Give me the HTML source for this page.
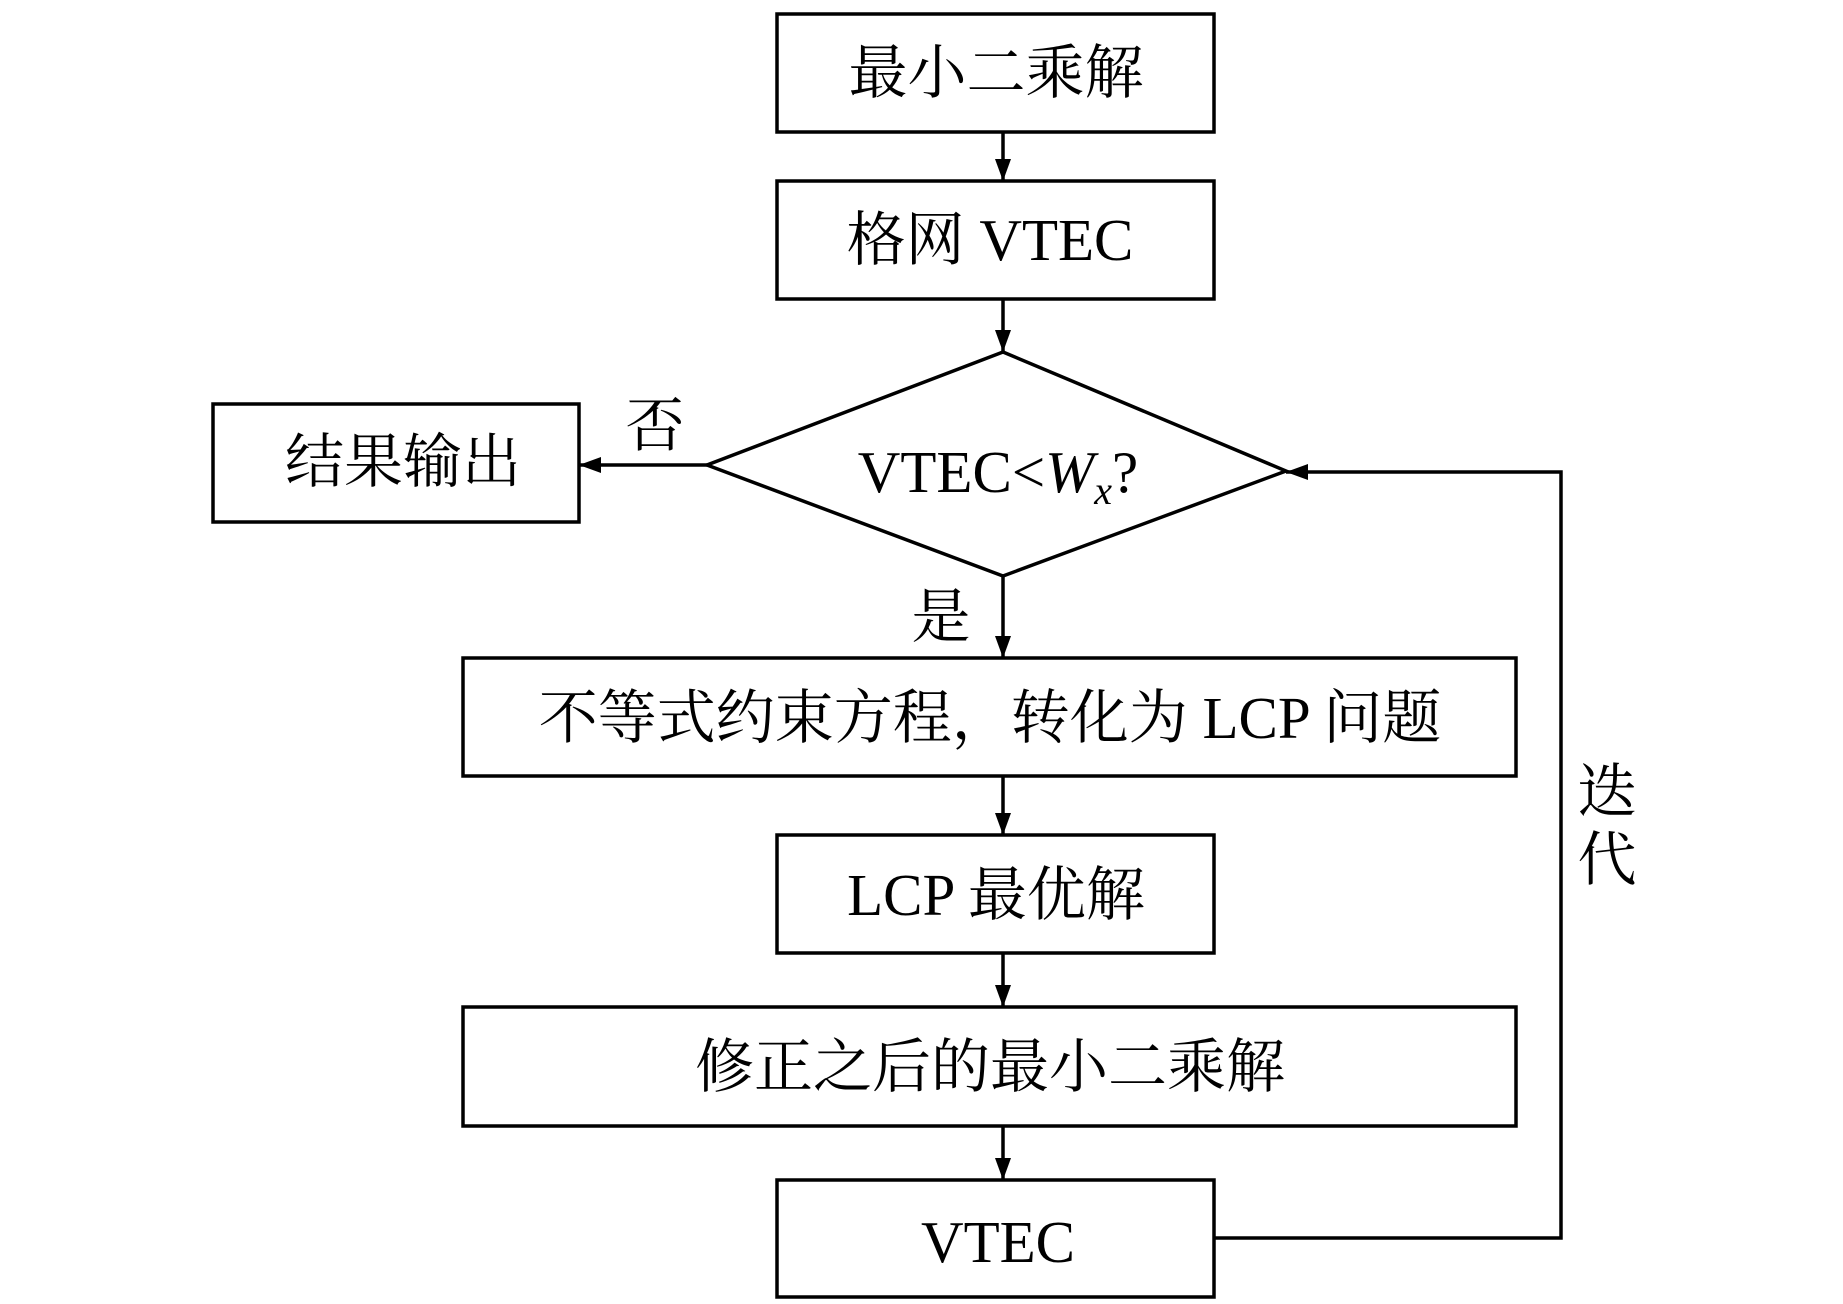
<!DOCTYPE html>
<html><head><meta charset="utf-8"><style>
html,body{margin:0;padding:0;background:#fff}
text{font-family:"Liberation Serif","Noto Serif CJK SC",serif;fill:#000}
</style></head><body>
<svg width="1843" height="1299" viewBox="0 0 1843 1299" xmlns="http://www.w3.org/2000/svg">
<defs><marker id="a" markerWidth="10" markerHeight="8" refX="10" refY="4" orient="auto" markerUnits="userSpaceOnUse" viewBox="0 0 10 8"><path d="M0,0 L10,4 L0,8z" fill="#000"/></marker>
<marker id="b" markerWidth="22" markerHeight="16" refX="22" refY="8" orient="auto" markerUnits="userSpaceOnUse"><path d="M0,0 L22,8 L0,16z" fill="#000"/></marker></defs>
<g fill="none" stroke="#000" stroke-width="3.5">
<rect x="777" y="14" width="437" height="118"/>
<rect x="777" y="181" width="437" height="118"/>
<polygon points="1003,352 1286,471 1003,576 707,465"/>
<rect x="213" y="404" width="366" height="118"/>
<rect x="463" y="658" width="1053" height="118"/>
<rect x="777" y="835" width="437" height="118"/>
<rect x="463" y="1007" width="1053" height="119"/>
<rect x="777" y="1180" width="437" height="117"/>
<line x1="1003" y1="132" x2="1003" y2="181" marker-end="url(#b)"/>
<line x1="1003" y1="299" x2="1003" y2="352" marker-end="url(#b)"/>
<line x1="707" y1="465" x2="579" y2="465" marker-end="url(#b)"/>
<line x1="1003" y1="576" x2="1003" y2="658" marker-end="url(#b)"/>
<line x1="1003" y1="776" x2="1003" y2="835" marker-end="url(#b)"/>
<line x1="1003" y1="953" x2="1003" y2="1007" marker-end="url(#b)"/>
<line x1="1003" y1="1126" x2="1003" y2="1180" marker-end="url(#b)"/>
<polyline points="1214,1238 1561,1238 1561,472 1286,472" marker-end="url(#b)"/>
</g>
<g font-size="59" text-anchor="middle">
<text x="996" y="93">最小二乘解</text>
<text x="990" y="260">格网 VTEC</text>
<text x="998" y="492">VTEC&lt;<tspan font-style="italic">W</tspan><tspan font-style="italic" font-size="40" dy="12">x</tspan><tspan dy="-12">?</tspan></text>
<text x="403" y="482">结果输出</text>
<text x="990" y="738">不等式约束方程，转化为 LCP 问题</text>
<text x="996" y="915">LCP 最优解</text>
<text x="990" y="1087">修正之后的最小二乘解</text>
<text x="998" y="1262">VTEC</text>
<text x="655" y="446">否</text>
<text x="941" y="637">是</text>
<text x="1607" y="812">迭</text>
<text x="1607" y="880">代</text>
</g>
</svg>
</body></html>
